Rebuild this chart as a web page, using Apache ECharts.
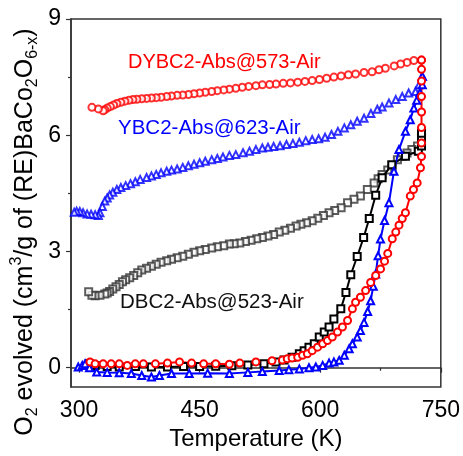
<!DOCTYPE html>
<html>
<head>
<meta charset="utf-8">
<script src="https://cdn.jsdelivr.net/npm/echarts@6/dist/echarts.min.js"></script>
<style>
html, body { margin: 0; padding: 0; background: #fff; }
#chart { width: 463px; height: 456px; }
</style>
</head>
<body>
<div id="chart"></div>
<script>
// tick labels
const xTicks = [300, 450, 600, 750];
const xMinorTicks = [375, 525, 675];
const yTicks = [0, 3, 6, 9];
const yMinorTicks = [1.5, 4.5, 7.5];

// [T (K), O2 evolved]; heating = lower branch, cooling = upper branch
const dbcHeating = [[313,0.1],[320,0.06],[335,0.03],[350,0.02],[370,0.03],[390,0.02],[410,0.02],[430,0.03],[450,0.03],[470,0.04],[490,0.05],[510,0.07],[530,0.1],[545,0.15],[555,0.2],[565,0.27],[574,0.36],[580,0.44],[586,0.53],[592.6,0.62],[598.8,0.79],[605,0.92],[611,1.05],[617,1.26],[625.6,1.52],[632,1.94],[638,2.4],[646,2.87],[654,3.36],[661,3.85],[669,4.45],[677,4.9],[689,5.24],[706,5.46],[722,5.59],[726,5.72],[726,5.9],[726,6.05]];
const dbcCooling = [[726,6.05],[721,5.72],[714,5.63],[708,5.54],[702,5.46],[696,5.37],[689.6,5.2],[684,5.1],[677,4.99],[672,4.88],[667,4.77],[658.6,4.6],[650,4.43],[642,4.35],[634,4.26],[626,4.13],[618,4.06],[611,4.0],[604,3.93],[597,3.86],[590,3.79],[583,3.74],[576,3.7],[570,3.66],[563,3.6],[556,3.55],[549,3.5],[542,3.44],[535,3.4],[528,3.36],[521,3.33],[514,3.29],[507,3.26],[500,3.22],[493,3.2],[487,3.19],[480,3.15],[472,3.12],[465,3.09],[457,3.05],[450,3.02],[443,2.98],[436,2.93],[429,2.88],[422,2.84],[415,2.8],[409,2.76],[402,2.72],[396,2.67],[390,2.62],[384,2.57],[378,2.52],[373,2.45],[368,2.38],[363,2.32],[358,2.27],[354,2.22],[350,2.15],[346,2.09],[342,2.03],[338,1.97],[335,1.93],[332,1.9],[326,1.87],[320,1.86],[316,1.87],[312,1.96]];

const ybcHeating = [[299,0.02],[304,0.06],[307.5,0.1],[313,0.0],[322,-0.11],[335,-0.12],[350,-0.13],[365,-0.15],[378,-0.2],[390,-0.24],[400,-0.2],[415,-0.15],[437,-0.15],[460,-0.14],[487,-0.15],[510,-0.12],[528,-0.1],[549,-0.07],[561,-0.05],[574,-0.03],[586,0.0],[594.5,0.02],[603,0.06],[611,0.12],[617,0.15],[623.6,0.19],[630,0.32],[636,0.49],[640,0.62],[646,0.79],[650,0.96],[654.5,1.17],[659,1.45],[662.7,1.73],[666,2.1],[669,2.42],[672,2.89],[675,3.32],[680,3.8],[685.5,4.26],[691.7,5.07],[698,5.63],[706,6.1],[712,6.4],[716.5,6.7],[720,6.9],[724,7.1],[727,7.3],[727,7.52]];
const ybcCooling = [[727,7.52],[723,7.3],[718.5,7.13],[710,7.09],[702,7.0],[694,6.92],[685.5,6.83],[677,6.73],[671,6.67],[663,6.56],[654.5,6.44],[646,6.36],[638,6.27],[630,6.19],[622,6.1],[614,6.02],[606,5.95],[598,5.91],[590,5.89],[582,5.86],[574,5.82],[566,5.79],[558,5.76],[550,5.73],[542,5.71],[535,5.69],[528,5.67],[520,5.63],[512,5.59],[504,5.55],[495,5.5],[487,5.48],[479,5.44],[472,5.4],[465,5.37],[457,5.33],[450,5.29],[443,5.25],[436,5.21],[429,5.17],[422,5.13],[415,5.1],[409,5.07],[402,5.03],[396,4.99],[390,4.95],[384,4.91],[376,4.86],[370,4.8],[364,4.75],[358,4.7],[352,4.65],[347,4.6],[342,4.53],[338,4.46],[335,4.38],[332,4.3],[329,4.16],[326,4.0],[324,3.93],[320,3.95],[315,3.96],[310,3.97],[305,4.0],[301,4.03],[297,4.04],[294,4.01]];

const dybcHeating = [[313.6,0.15],[320,0.1],[330,0.1],[340,0.1],[350,0.1],[360,0.06],[370,0.1],[380,0.1],[395,0.1],[410,0.12],[425,0.15],[440,0.12],[455,0.1],[470,0.1],[487,0.09],[500,0.12],[520,0.15],[540,0.18],[553,0.2],[559,0.23],[565,0.25],[572,0.27],[578,0.32],[584,0.36],[590,0.44],[596.7,0.53],[603,0.62],[609,0.7],[615,0.79],[621.5,0.92],[627.6,1.05],[634,1.22],[640,1.52],[644,1.69],[650,1.82],[656.5,1.99],[662.7,2.2],[669,2.38],[675,2.55],[680,2.75],[684,2.95],[689.6,3.33],[694,3.5],[698,3.68],[702,3.85],[706,4.0],[712,4.43],[716,4.6],[720.6,4.77],[724.7,5.16],[726,5.45],[726,5.8],[726,6.2],[726,6.6],[726,7.0],[726,7.4],[726,7.7],[726,7.94]];
const dybcCooling = [[726,7.94],[716.5,7.93],[708,7.88],[700,7.84],[692,7.79],[681,7.73],[673,7.69],[664.5,7.64],[654.5,7.62],[644,7.58],[635,7.56],[626,7.53],[617,7.5],[608,7.47],[599,7.44],[590,7.41],[581,7.39],[572,7.37],[563,7.35],[554,7.34],[545,7.32],[537,7.31],[528,7.3],[520,7.28],[511,7.26],[503,7.24],[495,7.21],[487,7.19],[480,7.17],[472,7.15],[465,7.13],[457,7.11],[450,7.09],[443,7.07],[436,7.05],[429,7.04],[422,7.03],[415,7.01],[409,7.0],[402,6.98],[396,6.97],[390,6.96],[384,6.95],[378,6.94],[372,6.93],[367,6.92],[362,6.9],[357,6.88],[352,6.85],[347,6.82],[343,6.78],[339,6.74],[335,6.7],[332,6.66],[330,6.63],[324,6.68],[316,6.72]];

const font = 'Liberation Sans, Arial, sans-serif';
const frame = '#333';

const chart = echarts.init(document.getElementById('chart'));

function heating(name, data, color, symbol) {
    return {
        name: name,
        type: 'line',
        data: data,
        symbol: symbol,
        symbolSize: 7,
        showAllSymbol: true,
        lineStyle: { color: color, width: 2 },
        itemStyle: { color: color, borderColor: color, borderWidth: 1.2 },
        animation: false
    };
}
function cooling(name, data, color, symbol) {
    return {
        name: name,
        type: 'scatter',
        data: data,
        symbol: symbol,
        symbolSize: 7,
        itemStyle: { color: color, borderColor: color, borderWidth: 1.2 },
        animation: false
    };
}

const option = {
    backgroundColor: '#fff',
    animation: false,
    grid: {
        left: 71, right: 21, top: 19, bottom: 68,
        show: true, borderColor: frame, borderWidth: 1.5, backgroundColor: 'transparent'
    },
    xAxis: [{
        type: 'value', min: 290, max: 750, position: 'bottom',
        axisLine: { show: true, lineStyle: { color: frame, width: 1.5 } },
        axisTick: { show: true, inside: false, length: 5, customValues: xTicks, lineStyle: { color: frame, width: 1.2 } },
        axisLabel: { customValues: xTicks, color: '#000', fontSize: 23, fontFamily: font, margin: 12 },
        splitLine: { show: false },
        name: 'Temperature (K)', nameLocation: 'middle', nameGap: 37,
        nameTextStyle: { color: '#000', fontSize: 24, fontFamily: font }
    }, {
        type: 'value', min: 290, max: 750, position: 'bottom',
        axisLine: { show: false },
        axisTick: { show: true, inside: false, length: 3, customValues: xMinorTicks, lineStyle: { color: frame, width: 1.2 } },
        axisLabel: { show: false },
        splitLine: { show: false }
    }],
    yAxis: [{
        type: 'value', min: -0.5, max: 9, position: 'left',
        axisLine: { show: true, lineStyle: { color: frame, width: 1.5 } },
        axisTick: { show: true, inside: false, length: 5, customValues: yTicks, lineStyle: { color: frame, width: 1.2 } },
        axisLabel: { customValues: yTicks, color: '#000', fontSize: 23, fontFamily: font, margin: 10 },
        splitLine: { show: false }
    }, {
        type: 'value', min: -0.5, max: 9, position: 'left',
        axisLine: { show: false },
        axisTick: { show: true, inside: false, length: 3, customValues: yMinorTicks, lineStyle: { color: frame, width: 1.2 } },
        axisLabel: { show: false },
        splitLine: { show: false }
    }],
    graphic: [{
        type: 'text', x: 25, y: 232, rotation: Math.PI / 2,
        style: {
            text: '{m|O}{sub|2}{m| evolved (cm}{sup|3}{m|/g of (RE)BaCo}{sub|2}{m|O}{sub|6-x}{m|)}',
            align: 'center', verticalAlign: 'middle', fill: '#000',
            rich: {
                m: { fontSize: 25, fontFamily: font, lineHeight: 32, fill: '#000' },
                sub: { fontSize: 16, fontFamily: font, lineHeight: 15, verticalAlign: 'bottom', fill: '#000' },
                sup: { fontSize: 16, fontFamily: font, lineHeight: 15, verticalAlign: 'top', fill: '#000' }
            }
        }
    }, {
        type: 'text', x: 128, y: 62,
        style: { text: 'DYBC2-Abs@573-Air', fill: '#ff0000', fontSize: 20, fontFamily: font, verticalAlign: 'middle' }
    }, {
        type: 'text', x: 118, y: 128,
        style: { text: 'YBC2-Abs@623-Air', fill: '#0000ff', fontSize: 20.5, fontFamily: font, verticalAlign: 'middle' }
    }, {
        type: 'text', x: 120, y: 302,
        style: { text: 'DBC2-Abs@523-Air', fill: '#111', fontSize: 20.5, fontFamily: font, verticalAlign: 'middle' }
    }],
    series: [
        heating('DBC2 heating', dbcHeating, '#000', 'emptyRect'),
        cooling('DBC2 cooling', dbcCooling, '#333', 'emptyRect'),
        heating('YBC2 heating', ybcHeating, '#0000ff', 'emptyTriangle'),
        cooling('YBC2 cooling', ybcCooling, '#0000ff', 'emptyTriangle'),
        heating('DYBC2 heating', dybcHeating, '#ff0000', 'emptyCircle'),
        cooling('DYBC2 cooling', dybcCooling, '#ff0000', 'emptyCircle')
    ]
};

chart.setOption(option);
</script>
</body>
</html>
